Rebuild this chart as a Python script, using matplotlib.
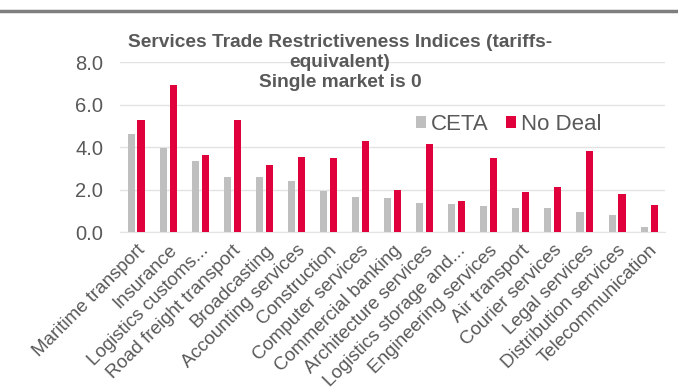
import matplotlib.pyplot as plt
import numpy as np
from matplotlib.lines import Line2D

plt.rcParams['font.family'] = ['Liberation Sans', 'DejaVu Sans']

categories = ['Maritime transport', 'Insurance', 'Logistics customs...',
              'Road freight transport', 'Broadcasting', 'Accounting services',
              'Construction', 'Computer services', 'Commercial banking',
              'Architecture services', 'Logistics storage and...',
              'Engineering services', 'Air transport', 'Courier services',
              'Legal services', 'Distribution services', 'Telecommunication']
ceta = [4.61, 3.95, 3.33, 2.61, 2.59, 2.39, 1.95, 1.64, 1.58, 1.38, 1.30,
        1.22, 1.14, 1.11, 0.95, 0.80, 0.25]
no_deal = [5.27, 6.92, 3.63, 5.27, 3.16, 3.53, 3.47, 4.30, 1.97, 4.13, 1.47,
           3.47, 1.89, 2.11, 3.83, 1.80, 1.27]
yticks = [0, 2, 4, 6, 8]

txt = '#595959'
fig = plt.figure(figsize=(6.78, 3.9), dpi=100)
ax = fig.add_axes([0.177, 0.405, 0.804, 0.436])

x = np.arange(len(categories))
w = 0.22
ax.bar(x - 0.155, ceta, w, color='#bfbfbf', label='CETA', zorder=3)
ax.bar(x + 0.155, no_deal, w, color='#e0003c', label='No Deal', zorder=3)

ax.set_xlim(-0.5, len(categories) - 0.5)
ax.set_ylim(0, 8)
ax.set_yticks(yticks)
ax.set_yticklabels(['%.1f' % v for v in yticks], fontsize=14.5, color=txt)
ax.yaxis.grid(True, color='#e3e3e3', linewidth=1, zorder=0)
ax.set_xticks(x)
ax.set_xticklabels(categories, rotation=45, ha='right', rotation_mode='anchor',
                   fontsize=13.5, color=txt)
ax.tick_params(axis='x', length=0, pad=7)
ax.tick_params(axis='y', length=0, pad=12)
for s in ['top', 'right', 'left']:
    ax.spines[s].set_visible(False)
ax.spines['bottom'].set_color('#e3e3e3')

ax.legend(loc='center left', bbox_to_anchor=(0.543, 0.635), frameon=False,
          fontsize=16, handlelength=0.45, handleheight=0.45, handletextpad=0.23,
          columnspacing=0.75, ncol=2, labelcolor=txt, borderpad=0,
          borderaxespad=0)

fig.text(0.5015, 0.912, 'Services Trade Restrictiveness Indices (tariffs-\nequivalent)\nSingle market is 0',
         ha='center', va='top', fontsize=13.8, fontweight='bold', color=txt,
         linespacing=1.22)

fig.add_artist(Line2D([0, 1], [0.973, 0.973], color='#7f7f7f', linewidth=2.5,
                      transform=fig.transFigure))

fig.savefig('out.png', dpi=100)
